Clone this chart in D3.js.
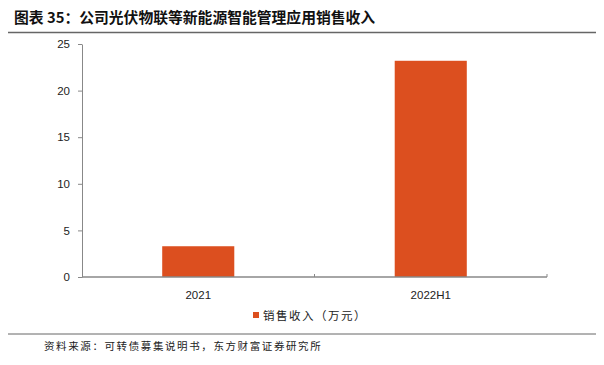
<!DOCTYPE html>
<html><head><meta charset="utf-8">
<script src="https://cdn.jsdelivr.net/npm/d3@7/dist/d3.min.js"></script>
<style>body{margin:0;background:#fff}svg{display:block}</style>
</head><body>
<script>
const categories = ["2021", "2022H1"];
const values = [3.3, 23.2];
const yTicks = [0, 5, 10, 15, 20, 25];
const seriesName = "销售收入（万元）";
const title = "图表 35：公司光伏物联等新能源智能管理应用销售收入";
const source = "资料来源：可转债募集说明书，东方财富证券研究所";

const W = 604, H = 365;
const svg = d3.select("body").append("svg").attr("width", W).attr("height", H);
const m = {l: 82, r: 57, t: 44, b: 88};
const x = d3.scaleBand().domain(categories).range([m.l, W - m.r]).paddingInner(0.69).paddingOuter(0.345);
const y = d3.scaleLinear().domain([0, 25]).range([H - m.b, m.t]);

svg.append("text").attr("x", 14).attr("y", 23).text(title)
  .attr("font-family", "'Noto Sans CJK SC'").attr("font-weight", "bold").attr("font-size", 14.8).attr("fill", "#111");
svg.append("line").attr("x1", 8).attr("x2", 596).attr("y1", 32.5).attr("y2", 32.5).attr("stroke", "#666").attr("stroke-width", 1.3);

svg.selectAll("rect.bar").data(values).join("rect").attr("class", "bar")
  .attr("x", (d, i) => x(categories[i])).attr("width", x.bandwidth())
  .attr("y", d => y(d)).attr("height", d => y(0) - y(d)).attr("fill", "#dc4f1f");

const ya = svg.append("g").attr("transform", `translate(${m.l},0)`)
  .call(d3.axisLeft(y).tickValues(yTicks).tickSize(4).tickSizeOuter(0));
ya.select(".domain").attr("stroke", "#888");
ya.selectAll(".tick line").attr("stroke", "#888");
ya.selectAll(".tick text").attr("font-family", "'Liberation Sans', Arial").attr("font-size", 11.5).attr("fill", "#222").attr("x", -12);

const xa = d3.scaleLinear().domain([0, 2]).range([m.l, W - m.r]);
const xg = svg.append("g").attr("transform", `translate(0,${y(0)})`);
xg.append("line").attr("x1", m.l).attr("x2", W - m.r).attr("stroke", "#888").attr("stroke-width", 1.3);
xg.selectAll("line.t").data([1, 2]).join("line").attr("class", "t")
  .attr("x1", d => xa(d)).attr("x2", d => xa(d)).attr("y1", -3).attr("y2", 0).attr("stroke", "#888");
xg.selectAll("text").data(categories).join("text")
  .attr("x", d => x(d) + x.bandwidth() / 2).attr("y", 22).attr("text-anchor", "middle")
  .attr("font-family", "'Liberation Sans', Arial").attr("font-size", 11.5).attr("fill", "#222").text(d => d);

const lg = svg.append("g");
lg.append("rect").attr("x", 253).attr("y", 312).attr("width", 6).attr("height", 6).attr("fill", "#dc4f1f");
lg.append("text").attr("x", 263).attr("y", 320).text(seriesName)
  .attr("font-family", "'Noto Sans CJK SC'").attr("font-size", 11.5).attr("fill", "#222").attr("letter-spacing", 1.5);

svg.append("line").attr("x1", 8).attr("x2", 596).attr("y1", 334).attr("y2", 334).attr("stroke", "#666").attr("stroke-width", 1);
svg.append("text").attr("x", 44).attr("y", 350).text(source)
  .attr("font-family", "'Noto Sans CJK SC'").attr("font-size", 10.5).attr("fill", "#222").attr("letter-spacing", 1.6);
</script>
</body></html>
